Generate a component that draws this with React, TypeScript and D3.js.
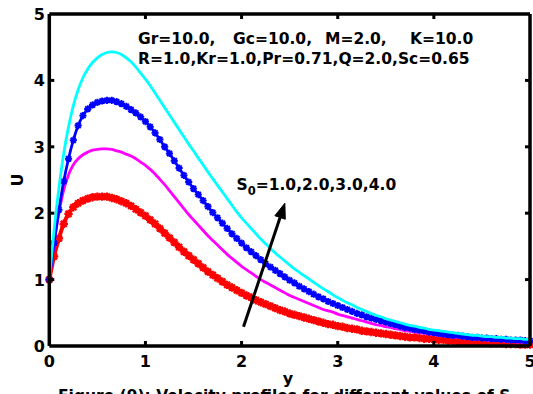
import React from "react";
import * as d3 from "d3";

const Y_GRID = [
  0.0, 0.05, 0.1, 0.15, 0.2, 0.25, 0.3, 0.35, 0.4, 0.45,
  0.5, 0.55, 0.6, 0.65, 0.7, 0.75, 0.8, 0.85, 0.9, 0.95,
  1.0, 1.05, 1.1, 1.15, 1.2, 1.25, 1.3, 1.35, 1.4, 1.45,
  1.5, 1.55, 1.6, 1.65, 1.7, 1.75, 1.8, 1.85, 1.9, 1.95,
  2.0, 2.05, 2.1, 2.15, 2.2, 2.25, 2.3, 2.35, 2.4, 2.45,
  2.5, 2.55, 2.6, 2.65, 2.7, 2.75, 2.8, 2.85, 2.9, 2.95,
  3.0, 3.05, 3.1, 3.15, 3.2, 3.25, 3.3, 3.35, 3.4, 3.45,
  3.5, 3.55, 3.6, 3.65, 3.7, 3.75, 3.8, 3.85, 3.9, 3.95,
  4.0, 4.05, 4.1, 4.15, 4.2, 4.25, 4.3, 4.35, 4.4, 4.45,
  4.5, 4.55, 4.6, 4.65, 4.7, 4.75, 4.8, 4.85, 4.9, 4.95, 5.0,
];

// S0 = 1.0 (red)
const U_S1 = [
  1.0, 1.35, 1.62, 1.84, 1.99, 2.09, 2.15, 2.19, 2.22, 2.24,
  2.25, 2.25, 2.25, 2.23, 2.21, 2.18, 2.15, 2.11, 2.06, 2.01,
  1.96, 1.9, 1.84, 1.77, 1.7, 1.63, 1.56, 1.49, 1.42, 1.36,
  1.3, 1.24, 1.18, 1.12, 1.07, 1.02, 0.97, 0.92, 0.88, 0.84,
  0.8, 0.76, 0.73, 0.69, 0.66, 0.63, 0.6, 0.57, 0.54, 0.52,
  0.49, 0.47, 0.45, 0.43, 0.41, 0.39, 0.37, 0.35, 0.33, 0.32,
  0.3, 0.29, 0.27, 0.26, 0.25, 0.23, 0.22, 0.21, 0.2, 0.19,
  0.18, 0.17, 0.16, 0.15, 0.14, 0.13, 0.13, 0.12, 0.11, 0.11,
  0.1, 0.09, 0.09, 0.08, 0.08, 0.07, 0.07, 0.06, 0.06, 0.06,
  0.05, 0.05, 0.04, 0.04, 0.04, 0.03, 0.03, 0.03, 0.02, 0.02, 0.02,
];
// S0 = 2.0 (magenta)
const U_S2 = [
  1.0, 1.55, 2.0, 2.35, 2.58, 2.73, 2.82, 2.88, 2.92, 2.95,
  2.96, 2.97, 2.97, 2.96, 2.94, 2.92, 2.89, 2.86, 2.82, 2.77,
  2.72, 2.66, 2.59, 2.51, 2.43, 2.34, 2.25, 2.16, 2.07, 1.98,
  1.9, 1.82, 1.74, 1.66, 1.59, 1.52, 1.45, 1.38, 1.32, 1.26,
  1.2, 1.15, 1.1, 1.05, 1.0, 0.96, 0.92, 0.88, 0.84, 0.8,
  0.76, 0.73, 0.7, 0.67, 0.64, 0.61, 0.58, 0.55, 0.53, 0.51,
  0.48, 0.46, 0.44, 0.42, 0.4, 0.38, 0.36, 0.34, 0.32, 0.31,
  0.29, 0.28, 0.26, 0.25, 0.23, 0.22, 0.21, 0.2, 0.19, 0.18,
  0.17, 0.16, 0.15, 0.14, 0.13, 0.13, 0.12, 0.11, 0.11, 0.1,
  0.1, 0.09, 0.09, 0.08, 0.08, 0.07, 0.07, 0.06, 0.06, 0.06, 0.05,
];
// S0 = 3.0 (blue)
const U_S3 = [
  1.0, 1.55, 2.05, 2.48, 2.82, 3.1, 3.32, 3.47, 3.57, 3.63,
  3.67, 3.69, 3.7, 3.7, 3.68, 3.65, 3.61, 3.56, 3.51, 3.45,
  3.38, 3.3, 3.21, 3.11, 3.0, 2.9, 2.79, 2.68, 2.57, 2.47,
  2.37, 2.28, 2.19, 2.1, 2.01, 1.93, 1.85, 1.77, 1.69, 1.62,
  1.55, 1.48, 1.42, 1.36, 1.3, 1.24, 1.19, 1.14, 1.09, 1.04,
  0.99, 0.95, 0.9, 0.86, 0.82, 0.78, 0.74, 0.71, 0.67, 0.64,
  0.61, 0.58, 0.55, 0.52, 0.49, 0.47, 0.44, 0.42, 0.4, 0.38,
  0.36, 0.34, 0.32, 0.3, 0.28, 0.27, 0.25, 0.24, 0.23, 0.21,
  0.2, 0.19, 0.18, 0.17, 0.16, 0.16, 0.15, 0.14, 0.13, 0.13,
  0.12, 0.12, 0.11, 0.11, 0.1, 0.1, 0.09, 0.09, 0.09, 0.08, 0.08,
];
// S0 = 4.0 (cyan)
const U_S4 = [
  1.0, 1.75, 2.38, 2.9, 3.3, 3.62, 3.86, 4.04, 4.17, 4.27,
  4.34, 4.39, 4.42, 4.43, 4.42, 4.39, 4.34, 4.28, 4.2, 4.11,
  4.02, 3.92, 3.81, 3.7, 3.59, 3.48, 3.37, 3.26, 3.15, 3.04,
  2.94, 2.83, 2.73, 2.62, 2.52, 2.42, 2.32, 2.22, 2.12, 2.02,
  1.93, 1.85, 1.77, 1.69, 1.61, 1.54, 1.47, 1.4, 1.34, 1.28,
  1.22, 1.16, 1.11, 1.06, 1.01, 0.96, 0.91, 0.86, 0.82, 0.77,
  0.73, 0.69, 0.65, 0.62, 0.58, 0.55, 0.52, 0.49, 0.46, 0.44,
  0.41, 0.39, 0.37, 0.35, 0.33, 0.31, 0.3, 0.28, 0.27, 0.25,
  0.24, 0.23, 0.22, 0.21, 0.2, 0.19, 0.18, 0.17, 0.16, 0.16,
  0.15, 0.14, 0.14, 0.13, 0.13, 0.12, 0.12, 0.11, 0.11, 0.1, 0.1,
];

const X_TICKS = [0, 1, 2, 3, 4, 5];
const Y_TICKS = [0, 1, 2, 3, 4, 5];
const PARAM_LINE1 = ["Gr=10.0,", "Gc=10.0,", "M=2.0,", "K=10.0"];
const PARAM_LINE2 = "R=1.0,Kr=1.0,Pr=0.71,Q=2.0,Sc=0.65";
const S0_LABEL = "=1.0,2.0,3.0,4.0";
const CAPTION = "Figure (9): Velocity profiles for different values of S";

const W = 533;
const H = 394;
const FONT = "'DejaVu Sans', Verdana, sans-serif";

function star(cx: number, cy: number, s: number) {
  const d = s * 0.72;
  return `M${cx - s},${cy}L${cx + s},${cy}M${cx},${cy - s}L${cx},${cy + s}` +
    `M${cx - d},${cy - d}L${cx + d},${cy + d}M${cx - d},${cy + d}L${cx + d},${cy - d}`;
}

export default function App() {
  const x = d3.scaleLinear().domain([0, 5]).range([49.3, 530]);
  const y = d3.scaleLinear().domain([0, 5]).range([346, 14]);

  const mk = (vals: number[]) =>
    d3.line<number>()
      .x((_, i) => x(Y_GRID[i]))
      .y((v) => y(v))
      .curve(d3.curveMonotoneX)(vals) as string;

  const series = [
    { vals: U_S1, color: "#ff0000", width: 4, marker: 4.2, mw: 2.3 },
    { vals: U_S2, color: "#ff00ff", width: 2.8, marker: 0, mw: 0 },
    { vals: U_S3, color: "#0000ff", width: 2.8, marker: 3.6, mw: 1.9 },
    { vals: U_S4, color: "#00ffff", width: 2.8, marker: 0, mw: 0 },
  ];

  const x0 = x(0), x1 = x(5), yTop = y(5), yBot = y(0);
  const tickLen = 5;

  const ax0 = x(2.02), ay0 = y(0.29);
  const ax1 = x(2.45), ay1 = y(2.15);
  const ang = Math.atan2(ay1 - ay0, ax1 - ax0);
  const hl = 15, hw = 5.5;
  const bx = ax1 - hl * Math.cos(ang), by = ay1 - hl * Math.sin(ang);
  const px = -Math.sin(ang), py = Math.cos(ang);
  const head = `M${ax1},${ay1}L${bx + hw * px},${by + hw * py}L${bx - hw * px},${by - hw * py}Z`;

  return (
    <svg
      width={W}
      height={H}
      style={{ position: "absolute", left: 0, top: 0, background: "#fff" }}
      fontFamily={FONT}
      fontWeight="bold"
    >
      <rect x={0} y={0} width={W} height={H} fill="#fff" />
      {series.map((s, k) => (
        <g key={k}>
          <path d={mk(s.vals)} fill="none" stroke={s.color} strokeWidth={s.width} strokeLinejoin="round" />
          {s.marker > 0 &&
            s.vals.map((v, i) => (
              <path key={i} d={star(x(Y_GRID[i]), y(v), s.marker)} stroke={s.color} strokeWidth={s.mw} fill="none" />
            ))}
        </g>
      ))}

      <g stroke="#000" strokeWidth={3.5} fill="none">
        <line x1={x0} y1={yBot} x2={x1} y2={yBot} />
        <line x1={x0} y1={yTop} x2={x1} y2={yTop} />
        <line x1={x0} y1={yTop} x2={x0} y2={yBot} />
        <line x1={x1} y1={yTop} x2={x1} y2={yBot} />
      </g>
      <g stroke="#000" strokeWidth={3}>
        {X_TICKS.slice(1, -1).map((t) => (
          <g key={t}>
            <line x1={x(t)} x2={x(t)} y1={yBot} y2={yBot - tickLen} />
            <line x1={x(t)} x2={x(t)} y1={yTop} y2={yTop + tickLen} />
          </g>
        ))}
        {Y_TICKS.slice(1, -1).map((t) => (
          <g key={t}>
            <line x1={x0} x2={x0 + tickLen} y1={y(t)} y2={y(t)} />
            <line x1={x1} x2={x1 - tickLen} y1={y(t)} y2={y(t)} />
          </g>
        ))}
      </g>

      <g fontSize={16} fill="#000">
        {X_TICKS.map((t) => (
          <text key={t} x={x(t)} y={367} textAnchor="middle">{t}</text>
        ))}
        {Y_TICKS.map((t) => (
          <text key={t} x={45} y={y(t) + 6} textAnchor="end">{t}</text>
        ))}
      </g>

      <text x={288} y={384} fontSize={16} textAnchor="middle">y</text>
      <text x={0} y={0} fontSize={16} textAnchor="middle" transform="translate(23,180) rotate(-90)">U</text>

      <g fontSize={15.5} fill="#000">
        <text x={138} y={44}>{PARAM_LINE1[0]}</text>
        <text x={233} y={44}>{PARAM_LINE1[1]}</text>
        <text x={325} y={44}>{PARAM_LINE1[2]}</text>
        <text x={410} y={44}>{PARAM_LINE1[3]}</text>
        <text x={138} y={64}>{PARAM_LINE2}</text>
      </g>

      <text x={236.5} y={190} fontSize={15.5}>
        S<tspan fontSize={11.5} dy={5}>0</tspan>
        <tspan dy={-5}>{S0_LABEL}</tspan>
      </text>

      <line x1={ax0} y1={ay0} x2={bx} y2={by} stroke="#000" strokeWidth={3} />
      <path d={head} fill="#000" stroke="#000" strokeWidth={1} />

      <text x={58} y={401} fontSize={15.5}>
        {CAPTION}<tspan fontSize={11.5} dy={4}>0</tspan>
      </text>
    </svg>
  );
}
